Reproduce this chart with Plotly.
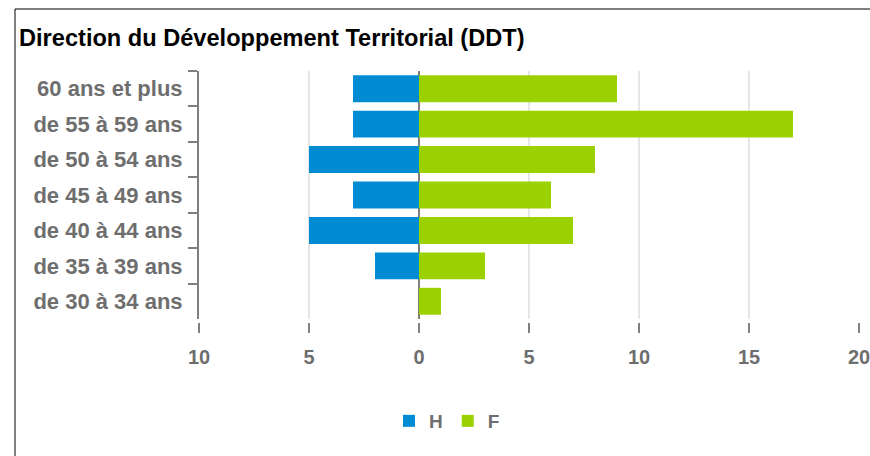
import plotly.graph_objects as go

title = "Direction du Développement Territorial (DDT)"
categories = ["60 ans et plus", "de 55 à 59 ans", "de 50 à 54 ans", "de 45 à 49 ans",
              "de 40 à 44 ans", "de 35 à 39 ans", "de 30 à 34 ans"]
hommes = [3, 3, 5, 3, 5, 2, 0]
femmes = [9, 17, 8, 6, 7, 3, 1]
x_tickvals = [-10, -5, 0, 5, 10, 15, 20]
x_ticktext = ["10", "5", "0", "5", "10", "15", "20"]

BLUE = "#008BD2"
GREEN = "#9BD100"
GREY = "#6E6E6E"
FONT = "Liberation Sans, Arial, sans-serif"

fig = go.Figure()
fig.add_trace(go.Bar(y=categories, x=[-v for v in hommes], orientation="h", name="H",
                     marker=dict(color=BLUE, line=dict(width=0))))
fig.add_trace(go.Bar(y=categories, x=femmes, orientation="h", name="F",
                     marker=dict(color=GREEN, line=dict(width=0))))

W, H = 870, 456
top, bottom_axis = 71, 322
plot_bottom = 319
paper_h = bottom_axis - top

fig.update_layout(
    width=W, height=H, autosize=False,
    margin=dict(l=199, r=11, t=top, b=H - bottom_axis, pad=0, autoexpand=False),
    paper_bgcolor="white", plot_bgcolor="white",
    barmode="overlay", bargap=0.24,
    font=dict(family=FONT, color=GREY),
    title=dict(text="<b>" + title + "</b>", x=19 / W, xanchor="left", xref="container",
               y=1 - 38 / H, yanchor="middle", yref="container",
               font=dict(size=23.6, color="#000000", family=FONT)),
    showlegend=True,
    legend=dict(orientation="h", xref="container", x=447 / W, xanchor="center",
                yref="container", y=1 - 421 / H, yanchor="middle",
                font=dict(size=19, color=GREY, family=FONT, weight="bold"), traceorder="normal",
                itemclick=False),
    xaxis=dict(range=[-10, 20], tickvals=x_tickvals, ticktext=x_ticktext,
               anchor="free", position=0, automargin=False,
               showgrid=True, gridcolor="#E6E6E6", gridwidth=2,
               zeroline=True, zerolinecolor="#7F7F7F", zerolinewidth=2,
               showline=False, ticks="outside", ticklen=10, tickwidth=2, tickcolor="#7F7F7F",
               tickfont=dict(size=20, color=GREY, family=FONT, weight="bold"),
               ticklabelstandoff=7, ticklabeloverflow="allow", fixedrange=True),
    yaxis=dict(categoryorder="array", categoryarray=categories, autorange="reversed",
               domain=[(bottom_axis - plot_bottom) / paper_h, 1], automargin=False,
               showgrid=False, zeroline=False,
               showline=True, linecolor="#7F7F7F", linewidth=2,
               ticks="outside", tickson="boundaries", ticklen=9, tickwidth=2, tickcolor="#7F7F7F",
               tickfont=dict(size=22, color=GREY, family=FONT, weight="bold"),
               ticklabelstandoff=10, fixedrange=True),
)

# frame lines (top and left) as in the reference
x0 = (15 - 199) / (W - 199 - 11)
y_top = (bottom_axis - 9) / paper_h
y_bot = (bottom_axis - H) / paper_h
fig.add_shape(type="line", xref="paper", yref="paper", x0=x0, x1=(W - 199) / (W - 199 - 11),
              y0=y_top, y1=y_top, line=dict(color="black", width=1))
fig.add_shape(type="line", xref="paper", yref="paper", x0=x0, x1=x0,
              y0=y_top, y1=y_bot, line=dict(color="black", width=1))

fig.write_html("out.html", config={"responsive": False, "displayModeBar": False},
               default_width="870px", default_height="456px",
               post_script="document.body.style.margin='0';document.body.style.overflow='hidden';")
